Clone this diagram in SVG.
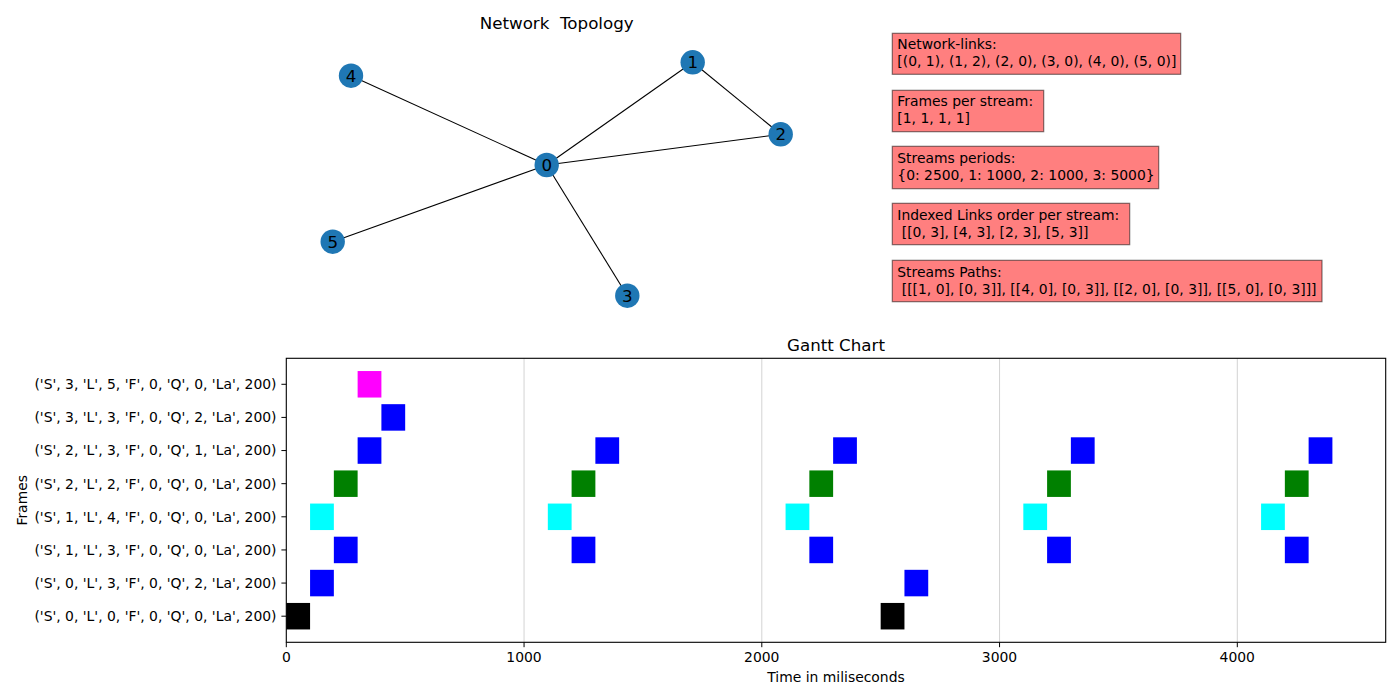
<svg xmlns="http://www.w3.org/2000/svg" width="1400" height="700" viewBox="0 0 1400 700">
<style>
text{font-family:"DejaVu Sans","Liberation Sans",sans-serif;fill:#000}
.t10{font-size:13.9px}
.t12{font-size:16.7px}
.edge{stroke:#000;stroke-width:1.1;fill:none}
.node{fill:#1f77b4}
.nl{font-size:16.7px;text-anchor:middle}
.box{fill:#ff0000;fill-opacity:0.5;stroke:#000;stroke-opacity:0.5;stroke-width:1.2}
.grid{stroke:#d3d3d3;stroke-width:1}
.tick{stroke:#000;stroke-width:1}
.yl{font-size:13.9px;text-anchor:end}
.xl{font-size:13.9px;text-anchor:middle}
</style>
<rect width="1400" height="700" fill="#fff"/>

<text class="t12" x="556.7" y="29" text-anchor="middle" xml:space="preserve">Network  Topology</text>

<g id="connectors">
<line class="edge" x1="546.7" y1="165" x2="692.7" y2="62.3"/>
<line class="edge" x1="692.7" y1="62.3" x2="780.7" y2="134.3"/>
<line class="edge" x1="780.7" y1="134.3" x2="546.7" y2="165"/>
<line class="edge" x1="627.3" y1="295.7" x2="546.7" y2="165"/>
<line class="edge" x1="351" y1="75.7" x2="546.7" y2="165"/>
<line class="edge" x1="332.7" y1="241.7" x2="546.7" y2="165"/>
</g>
<g id="node0"><circle class="node" cx="546.7" cy="165" r="12.2"/><text class="nl" x="546.7" y="171">0</text></g>
<g id="node1"><circle class="node" cx="692.7" cy="62.3" r="12.2"/><text class="nl" x="692.7" y="68.3">1</text></g>
<g id="node2"><circle class="node" cx="780.7" cy="134.3" r="12.2"/><text class="nl" x="780.7" y="140.3">2</text></g>
<g id="node3"><circle class="node" cx="627.3" cy="295.7" r="12.2"/><text class="nl" x="627.3" y="301.7">3</text></g>
<g id="node4"><circle class="node" cx="351" cy="75.7" r="12.2"/><text class="nl" x="351" y="81.7">4</text></g>
<g id="node5"><circle class="node" cx="332.7" cy="241.7" r="12.2"/><text class="nl" x="332.7" y="247.7">5</text></g>

<g id="info-links">
<rect class="box" x="892.3" y="33.3" width="288.4" height="41"/>
<text class="t10" x="897.3" y="49">Network-links:</text>
<text class="t10" x="897.3" y="66">[(0, 1), (1, 2), (2, 0), (3, 0), (4, 0), (5, 0)]</text>
</g>
<g id="info-frames">
<rect class="box" x="892.3" y="90.3" width="151.4" height="41.4"/>
<text class="t10" x="897.3" y="106">Frames per stream:</text>
<text class="t10" x="897.3" y="123">[1, 1, 1, 1]</text>
</g>
<g id="info-periods">
<rect class="box" x="892.3" y="146.3" width="266.4" height="42.4"/>
<text class="t10" x="897.3" y="163">Streams periods:</text>
<text class="t10" x="897.3" y="180">{0: 2500, 1: 1000, 2: 1000, 3: 5000}</text>
</g>
<g id="info-order">
<rect class="box" x="892.3" y="203.3" width="237.4" height="41.4"/>
<text class="t10" x="897.3" y="220">Indexed Links order per stream:</text>
<text class="t10" x="897.3" y="237" xml:space="preserve"> [[0, 3], [4, 3], [2, 3], [5, 3]]</text>
</g>
<g id="info-paths">
<rect class="box" x="892.3" y="260.3" width="429.7" height="41.4"/>
<text class="t10" x="897.3" y="277">Streams Paths:</text>
<text class="t10" x="897.3" y="294" xml:space="preserve"> [[[1, 0], [0, 3]], [[4, 0], [0, 3]], [[2, 0], [0, 3]], [[5, 0], [0, 3]]]</text>
</g>

<g id="gantt">
<text class="t12" x="836" y="350.5" text-anchor="middle">Gantt Chart</text>
<g id="grid">
<line class="grid" x1="524.05" y1="358.3" x2="524.05" y2="642.3"/>
<line class="grid" x1="761.8" y1="358.3" x2="761.8" y2="642.3"/>
<line class="grid" x1="999.55" y1="358.3" x2="999.55" y2="642.3"/>
<line class="grid" x1="1237.3" y1="358.3" x2="1237.3" y2="642.3"/>
</g>
<g id="bars" transform="translate(286.3,0) scale(0.23775,1)">
<rect x="0" y="602.95" width="100" height="26.5" fill="#000"/>
<rect x="2500" y="602.95" width="100" height="26.5" fill="#000"/>
<rect x="100" y="569.82" width="100" height="26.5" fill="#0000ff"/>
<rect x="2600" y="569.82" width="100" height="26.5" fill="#0000ff"/>
<rect x="200" y="536.69" width="100" height="26.5" fill="#0000ff"/>
<rect x="1200" y="536.69" width="100" height="26.5" fill="#0000ff"/>
<rect x="2200" y="536.69" width="100" height="26.5" fill="#0000ff"/>
<rect x="3200" y="536.69" width="100" height="26.5" fill="#0000ff"/>
<rect x="4200" y="536.69" width="100" height="26.5" fill="#0000ff"/>
<rect x="100" y="503.56" width="100" height="26.5" fill="#00ffff"/>
<rect x="1100" y="503.56" width="100" height="26.5" fill="#00ffff"/>
<rect x="2100" y="503.56" width="100" height="26.5" fill="#00ffff"/>
<rect x="3100" y="503.56" width="100" height="26.5" fill="#00ffff"/>
<rect x="4100" y="503.56" width="100" height="26.5" fill="#00ffff"/>
<rect x="200" y="470.43" width="100" height="26.5" fill="#008000"/>
<rect x="1200" y="470.43" width="100" height="26.5" fill="#008000"/>
<rect x="2200" y="470.43" width="100" height="26.5" fill="#008000"/>
<rect x="3200" y="470.43" width="100" height="26.5" fill="#008000"/>
<rect x="4200" y="470.43" width="100" height="26.5" fill="#008000"/>
<rect x="300" y="437.3" width="100" height="26.5" fill="#0000ff"/>
<rect x="1300" y="437.3" width="100" height="26.5" fill="#0000ff"/>
<rect x="2300" y="437.3" width="100" height="26.5" fill="#0000ff"/>
<rect x="3300" y="437.3" width="100" height="26.5" fill="#0000ff"/>
<rect x="4300" y="437.3" width="100" height="26.5" fill="#0000ff"/>
<rect x="400" y="404.17" width="100" height="26.5" fill="#0000ff"/>
<rect x="300" y="371.04" width="100" height="26.5" fill="#ff00ff"/>
</g>
<rect x="286.3" y="358.3" width="1099.4" height="284" fill="none" stroke="#000" stroke-width="1.1"/>
<g id="yticks">
<line class="tick" x1="281.4" y1="616.2" x2="286.3" y2="616.2"/>
<line class="tick" x1="281.4" y1="583.07" x2="286.3" y2="583.07"/>
<line class="tick" x1="281.4" y1="549.94" x2="286.3" y2="549.94"/>
<line class="tick" x1="281.4" y1="516.81" x2="286.3" y2="516.81"/>
<line class="tick" x1="281.4" y1="483.68" x2="286.3" y2="483.68"/>
<line class="tick" x1="281.4" y1="450.55" x2="286.3" y2="450.55"/>
<line class="tick" x1="281.4" y1="417.42" x2="286.3" y2="417.42"/>
<line class="tick" x1="281.4" y1="384.29" x2="286.3" y2="384.29"/>
<text class="yl" x="276.5" y="621">('S', 0, 'L', 0, 'F', 0, 'Q', 0, 'La', 200)</text>
<text class="yl" x="276.5" y="587.9">('S', 0, 'L', 3, 'F', 0, 'Q', 2, 'La', 200)</text>
<text class="yl" x="276.5" y="554.7">('S', 1, 'L', 3, 'F', 0, 'Q', 0, 'La', 200)</text>
<text class="yl" x="276.5" y="521.6">('S', 1, 'L', 4, 'F', 0, 'Q', 0, 'La', 200)</text>
<text class="yl" x="276.5" y="488.5">('S', 2, 'L', 2, 'F', 0, 'Q', 0, 'La', 200)</text>
<text class="yl" x="276.5" y="455.4">('S', 2, 'L', 3, 'F', 0, 'Q', 1, 'La', 200)</text>
<text class="yl" x="276.5" y="422.2">('S', 3, 'L', 3, 'F', 0, 'Q', 2, 'La', 200)</text>
<text class="yl" x="276.5" y="389.1">('S', 3, 'L', 5, 'F', 0, 'Q', 0, 'La', 200)</text>
</g>
<g id="xticks">
<line class="tick" x1="286.3" y1="642.3" x2="286.3" y2="647.2"/>
<line class="tick" x1="524.05" y1="642.3" x2="524.05" y2="647.2"/>
<line class="tick" x1="761.8" y1="642.3" x2="761.8" y2="647.2"/>
<line class="tick" x1="999.55" y1="642.3" x2="999.55" y2="647.2"/>
<line class="tick" x1="1237.3" y1="642.3" x2="1237.3" y2="647.2"/>
<text class="xl" x="286.3" y="662">0</text>
<text class="xl" x="524.05" y="662">1000</text>
<text class="xl" x="761.8" y="662">2000</text>
<text class="xl" x="999.55" y="662">3000</text>
<text class="xl" x="1237.3" y="662">4000</text>
</g>
<text class="xl" x="836" y="682">Time in miliseconds</text>
<text class="xl" transform="translate(27,500.3) rotate(-90)">Frames</text>
</g>
</svg>
